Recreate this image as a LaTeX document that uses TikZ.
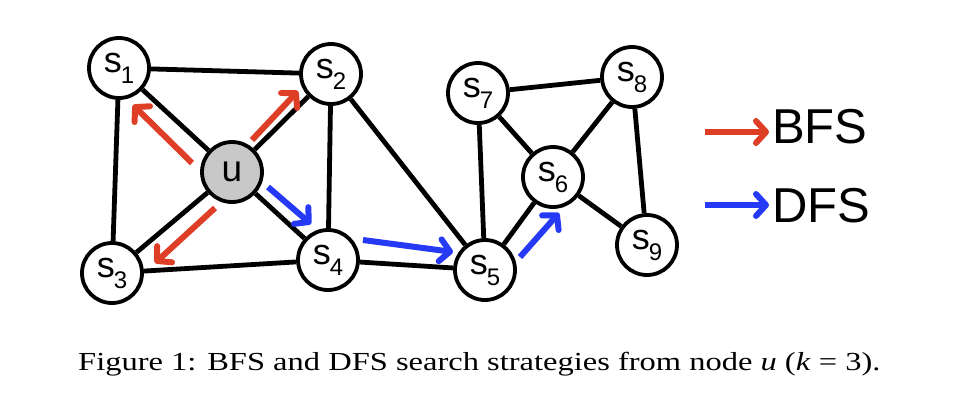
\documentclass[tikz,border=0pt]{standalone}
\usepackage{fontspec}
\setmainfont{Liberation Serif}
\newfontfamily\arialf{Liberation Sans}
\usetikzlibrary{arrows.meta}
\definecolor{bfsred}{RGB}{222,62,38}
\definecolor{dfsblue}{RGB}{38,58,245}
\definecolor{ugray}{RGB}{200,200,200}
\newcommand{\slab}[1]{{\arialf\fontsize{36}{36}\selectfont s\kern-1pt\raisebox{-11pt}{\fontsize{24}{24}\selectfont #1}}}
\begin{document}
\begin{tikzpicture}[x=1pt,y=-1pt,
  vert/.style={circle,draw=black,fill=white,line width=3.8pt,minimum size=60pt,inner sep=0pt},
  edge/.style={line width=4.8pt,black},
  bfs/.style={line width=6pt,bfsred,-{Straight Barb[length=10pt,width=22pt,round]}},
  dfs/.style={line width=6pt,dfsblue,-{Straight Barb[length=10pt,width=22pt,round]}},
  leg/.style={font=\arialf\fontsize{49}{49}\selectfont,anchor=base west,inner sep=0pt}]
\useasboundingbox (0,0) rectangle (978,408);
% vertices
\node[vert] (s1) at (119,68) {\slab{1}};
\node[vert] (s2) at (331,74) {\slab{2}};
\node[vert,fill=ugray] (u) at (232,172) {\arialf\fontsize{37}{37}\selectfont u};
\node[vert] (s3) at (112,273) {\slab{3}};
\node[vert] (s4) at (328,260) {\slab{4}};
\node[vert] (s5) at (485,270) {\slab{5}};
\node[vert] (s7) at (478,93) {\slab{7}};
\node[vert] (s8) at (632,77) {\slab{8}};
\node[vert] (s6) at (553,177) {\slab{6}};
\node[vert] (s9) at (647,245) {\slab{9}};
% edges
\draw[edge] (s1) -- (s2);
\draw[edge] (s1) -- (s3);
\draw[edge] (s1) -- (u);
\draw[edge] (s2) -- (u);
\draw[edge] (s2) -- (s4);
\draw[edge] (s2) -- (s5);
\draw[edge] (u) -- (s3);
\draw[edge] (u) -- (s4);
\draw[edge] (s3) -- (s4);
\draw[edge] (s4) -- (s5);
\draw[edge] (s5) -- (s7);
\draw[edge] (s5) -- (s6);
\draw[edge] (s7) -- (s8);
\draw[edge] (s7) -- (s6);
\draw[edge] (s8) -- (s6);
\draw[edge] (s8) -- (s9);
\draw[edge] (s6) -- (s9);
% search arrows
\coordinate (b1a) at (192,163); \coordinate (b1b) at (133,105);
\coordinate (b2a) at (252,140); \coordinate (b2b) at (298,91);
\coordinate (b3a) at (215,208); \coordinate (b3b) at (155,263);
\coordinate (d1a) at (268,187); \coordinate (d1b) at (311,224);
\coordinate (d2a) at (363,240); \coordinate (d2b) at (453,252);
\coordinate (d3a) at (520,257); \coordinate (d3b) at (559,213);
\draw[bfs] (b1a) -- (b1b);
\draw[bfs] (b2a) -- (b2b);
\draw[bfs] (b3a) -- (b3b);
\draw[dfs] (d1a) -- (d1b);
\draw[dfs] (d2a) -- (d2b);
\draw[dfs] (d3a) -- (d3b);
% legend
\coordinate (lb1) at (705,132); \coordinate (lb2) at (769,132);
\coordinate (ld1) at (705,205); \coordinate (ld2) at (769,205);
\draw[bfs] (lb1) -- (lb2);
\draw[dfs] (ld1) -- (ld2);
\node[leg] (bfst) at (772,143) {BFS};
\node[leg] (dfst) at (772,222) {DFS};
% caption
\node[anchor=base west,inner sep=0pt,font=\fontsize{26}{26}\selectfont] (cap) at (78,370)
  {\scalebox{1.25}[1]{Figure 1: BFS and DFS search strategies from node \textit{u} (\textit{k} = 3).}};
\end{tikzpicture}
\end{document}
